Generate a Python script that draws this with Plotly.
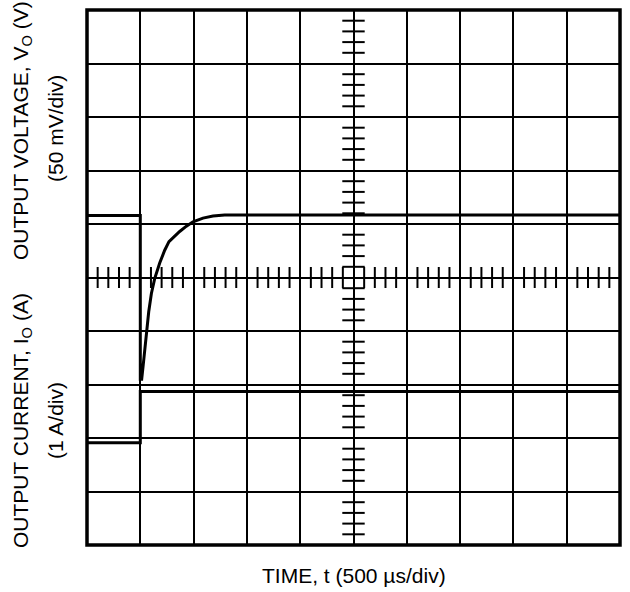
import plotly.graph_objects as go

# Oscilloscope trace data (in divisions: x 0..10, y 0..10)
time_v = [0, 1.0, 1.0, 1.026, 1.051, 1.083, 1.114, 1.158, 1.208, 1.270, 1.364, 1.458,
          1.538, 1.645, 1.739, 1.865, 1.989, 2.176, 2.364, 2.583, 2.803, 10]
volt_v = [6.16, 6.16, 3.10, 3.10, 3.33, 3.68, 4.02, 4.36, 4.70, 4.98, 5.27, 5.51,
          5.67, 5.78, 5.86, 5.96, 6.04, 6.11, 6.15, 6.17, 6.17, 6.17]

time_i = [0, 1.0, 1.0, 10]
curr_i = [1.91, 1.91, 2.87, 2.87]

x_title = "TIME, t (500 \u00b5s/div)"
v_title = "OUTPUT VOLTAGE, V<sub>O</sub> (V)"
v_scale = "(50 mV/div)"
i_title = "OUTPUT CURRENT, I<sub>O</sub> (A)"
i_scale = "(1 A/div)"

minor = [k / 5 for k in range(1, 50) if k % 5]

L, R, T, B = 87, 10, 10, 47
W, H = 630, 592
pw, ph = W - L - R, H - T - B

def px(xp):
    return (xp - L) / pw

def py(yp):
    return (H - B - yp) / ph

fig = go.Figure()

# center-axis minor ticks
fig.add_trace(go.Scatter(
    x=[5] * len(minor), y=minor, mode="markers", hoverinfo="skip",
    marker=dict(symbol="line-ew", size=16, line=dict(color="black", width=2)),
    showlegend=False))
fig.add_trace(go.Scatter(
    x=minor, y=[5] * len(minor), mode="markers", hoverinfo="skip",
    marker=dict(symbol="line-ns", size=15, line=dict(color="black", width=2)),
    showlegend=False))

fig.add_trace(go.Scatter(x=time_i, y=curr_i, mode="lines",
                         line=dict(color="black", width=3), showlegend=False))
fig.add_trace(go.Scatter(x=time_v, y=volt_v, mode="lines",
                         line=dict(color="black", width=3), showlegend=False))

font = dict(family="Liberation Sans, Arial, sans-serif", size=21, color="black")

ax = dict(range=[0, 10], dtick=1, tick0=0, showgrid=True, gridcolor="black",
          gridwidth=2, zeroline=False, showticklabels=False, ticks="",
          showline=False, fixedrange=True)

fig.update_layout(
    width=W, height=H,
    margin=dict(l=L, r=R, t=T, b=B),
    paper_bgcolor="white", plot_bgcolor="white",
    xaxis=ax, yaxis=ax,
    font=font,
    shapes=[dict(type="rect", xref="paper", yref="paper", x0=0, y0=0, x1=1, y1=1,
                 line=dict(color="black", width=3.5))],
    annotations=[
        dict(text=x_title, xref="paper", yref="paper", x=px(354), y=py(575),
             xanchor="center", yanchor="middle", showarrow=False, font=font),
        dict(text=v_title, xref="paper", yref="paper", x=px(22), y=py(131),
             xanchor="center", yanchor="middle", showarrow=False, textangle=-90, font=font),
        dict(text=v_scale, xref="paper", yref="paper", x=px(55), y=py(129),
             xanchor="center", yanchor="middle", showarrow=False, textangle=-90, font=font),
        dict(text=i_title, xref="paper", yref="paper", x=px(22), y=py(421),
             xanchor="center", yanchor="middle", showarrow=False, textangle=-90, font=font),
        dict(text=i_scale, xref="paper", yref="paper", x=px(55), y=py(421),
             xanchor="center", yanchor="middle", showarrow=False, textangle=-90, font=font),
    ],
)

fig.write_html("out.html",
               config={"displayModeBar": False},
               post_script="document.body.style.margin='0';document.body.style.padding='0';")
